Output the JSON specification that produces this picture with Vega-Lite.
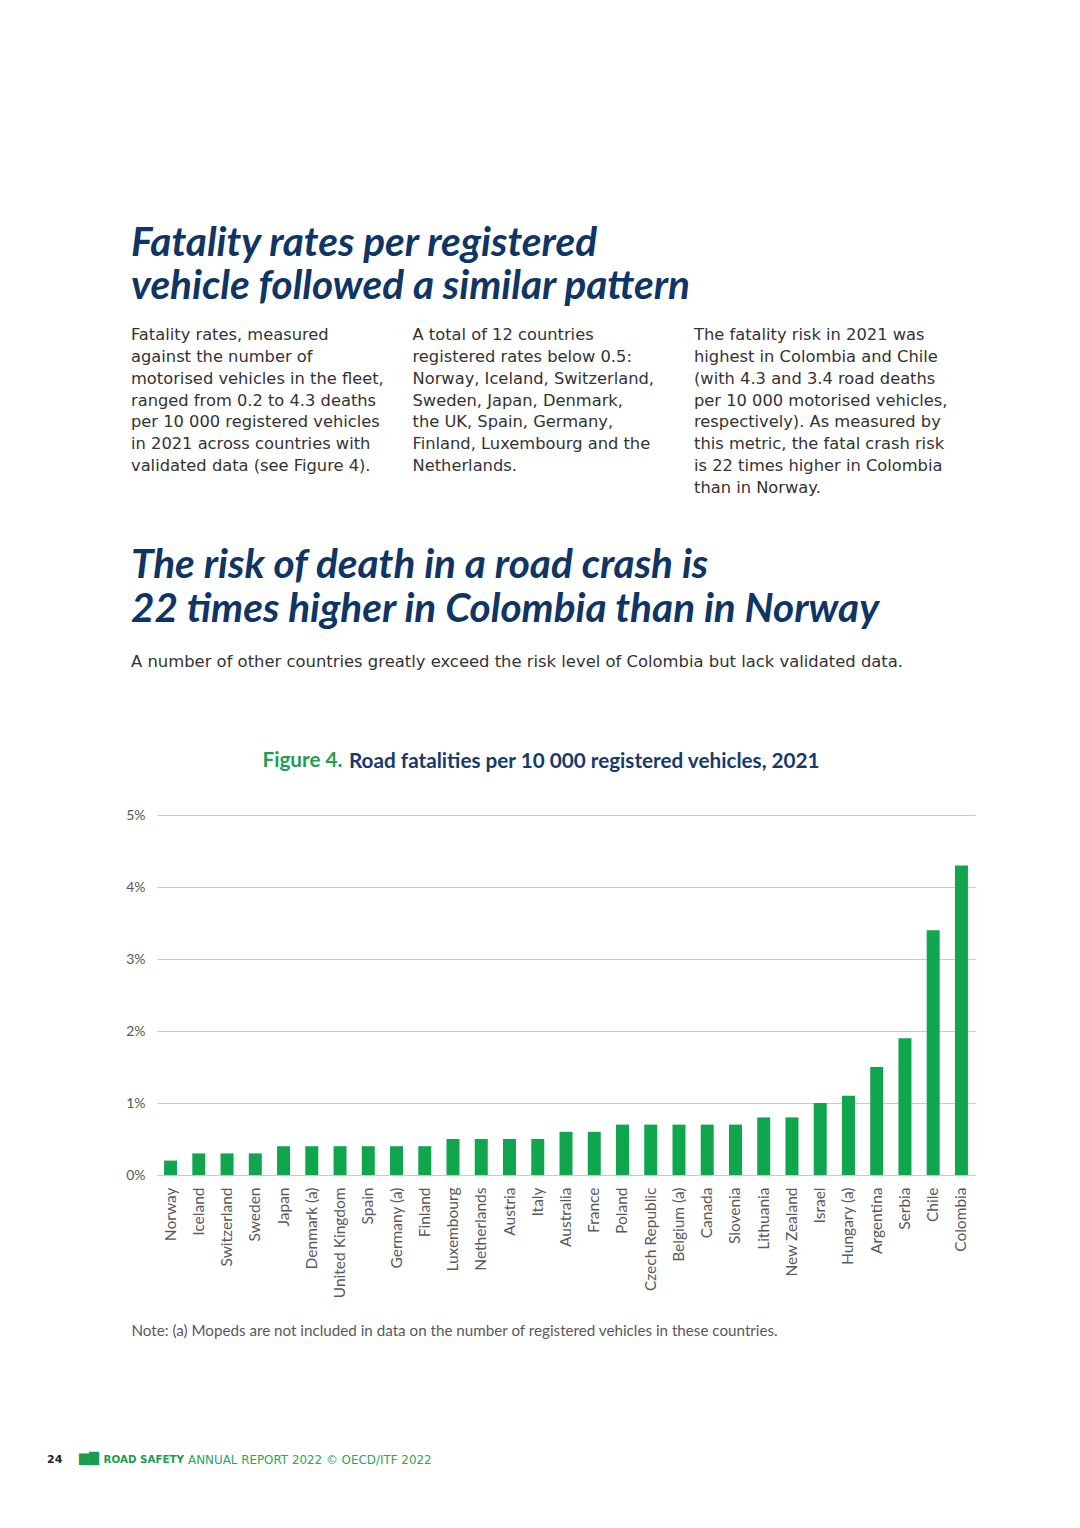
{
  "$schema": "https://vega.github.io/schema/vega-lite/v6.json",
  "background": "white",
  "padding": {"left": 47, "top": 223, "right": 10, "bottom": 10},
  "autosize": {"type": "pad"},
  "spacing": 78,
  "config": {"view": {"stroke": null}},
  "title": {
    "text": ["Fatality rates per registered", "vehicle followed a similar pattern"],
    "anchor": "start", "dx": 84, "offset": 20,
    "font": "Lato", "fontSize": 40.5, "fontStyle": "italic", "fontWeight": "bold",
    "color": "#0f3565", "lineHeight": 43
  },
  "vconcat": [
    {
      "width": 563, "height": 153,
      "data": {"values": [
        {"col": 1, "line": 0, "text": "Fatality rates, measured"},
        {"col": 1, "line": 1, "text": "against the number of"},
        {"col": 1, "line": 2, "text": "motorised vehicles in the fleet,"},
        {"col": 1, "line": 3, "text": "ranged from 0.2 to 4.3 deaths"},
        {"col": 1, "line": 4, "text": "per 10 000 registered vehicles"},
        {"col": 1, "line": 5, "text": "in 2021 across countries with"},
        {"col": 1, "line": 6, "text": "validated data (see Figure 4)."},
        {"col": 2, "line": 0, "text": "A total of 12 countries"},
        {"col": 2, "line": 1, "text": "registered rates below 0.5:"},
        {"col": 2, "line": 2, "text": "Norway, Iceland, Switzerland,"},
        {"col": 2, "line": 3, "text": "Sweden, Japan, Denmark,"},
        {"col": 2, "line": 4, "text": "the UK, Spain, Germany,"},
        {"col": 2, "line": 5, "text": "Finland, Luxembourg and the"},
        {"col": 2, "line": 6, "text": "Netherlands."},
        {"col": 3, "line": 0, "text": "The fatality risk in 2021 was"},
        {"col": 3, "line": 1, "text": "highest in Colombia and Chile"},
        {"col": 3, "line": 2, "text": "(with 4.3 and 3.4 road deaths"},
        {"col": 3, "line": 3, "text": "per 10 000 motorised vehicles,"},
        {"col": 3, "line": 4, "text": "respectively). As measured by"},
        {"col": 3, "line": 5, "text": "this metric, the fatal crash risk"},
        {"col": 3, "line": 6, "text": "is 22 times higher in Colombia"},
        {"col": 3, "line": 7, "text": "than in Norway."}
      ]},
      "mark": {"type": "text", "align": "left", "baseline": "alphabetic", "dx": -26, "font": "DejaVu Sans", "fontSize": 16.3, "color": "#333333"},
      "encoding": {
        "x": {"field": "col", "type": "ordinal", "scale": {"type": "point", "padding": 0}, "axis": null},
        "y": {"field": "line", "type": "ordinal", "scale": {"type": "point", "padding": 0}, "axis": null},
        "text": {"field": "text"}
      },
      "title": {
        "text": ["The risk of death in a road crash is", "22 times higher in Colombia than in Norway"],
        "subtitle": "A number of other countries greatly exceed the risk level of Colombia but lack validated data.",
        "orient": "bottom", "anchor": "start", "frame": "group", "dx": -26, "offset": 50,
        "font": "Lato", "fontSize": 40.5, "fontStyle": "italic", "fontWeight": "bold",
        "color": "#0f3565", "lineHeight": 44,
        "subtitleFont": "DejaVu Sans", "subtitleFontSize": 16.4, "subtitleColor": "#333333", "subtitlePadding": 23
      }
    },
    {
      "width": 818, "height": 360,
      "data": {"values": [
        {"country": "Norway", "value": 0.2},
        {"country": "Iceland", "value": 0.3},
        {"country": "Switzerland", "value": 0.3},
        {"country": "Sweden", "value": 0.3},
        {"country": "Japan", "value": 0.4},
        {"country": "Denmark (a)", "value": 0.4},
        {"country": "United Kingdom", "value": 0.4},
        {"country": "Spain", "value": 0.4},
        {"country": "Germany (a)", "value": 0.4},
        {"country": "Finland", "value": 0.4},
        {"country": "Luxembourg", "value": 0.5},
        {"country": "Netherlands", "value": 0.5},
        {"country": "Austria", "value": 0.5},
        {"country": "Italy", "value": 0.5},
        {"country": "Australia", "value": 0.6},
        {"country": "France", "value": 0.6},
        {"country": "Poland", "value": 0.7},
        {"country": "Czech Republic", "value": 0.7},
        {"country": "Belgium (a)", "value": 0.7},
        {"country": "Canada", "value": 0.7},
        {"country": "Slovenia", "value": 0.7},
        {"country": "Lithuania", "value": 0.8},
        {"country": "New Zealand", "value": 0.8},
        {"country": "Israel", "value": 1.0},
        {"country": "Hungary (a)", "value": 1.1},
        {"country": "Argentina", "value": 1.5},
        {"country": "Serbia", "value": 1.9},
        {"country": "Chile", "value": 3.4},
        {"country": "Colombia", "value": 4.3}
      ]},
      "mark": {"type": "bar", "color": "#0fa64e"},
      "encoding": {
        "x": {
          "field": "country", "type": "nominal", "sort": null,
          "scale": {"paddingInner": 0.54, "paddingOuter": 0.25},
          "axis": {
            "labelAngle": -90, "labelAlign": "right", "labelBaseline": "middle", "labelPadding": 12,
            "labelFont": "Lato", "labelFontSize": 15.5, "labelColor": "#595959",
            "ticks": false, "domain": false,
            "title": "Note: (a) Mopeds are not included in data on the number of registered vehicles in these countries.",
            "titleFont": "Lato", "titleFontSize": 15.2, "titleFontWeight": "normal", "titleColor": "#595959",
            "titleAnchor": "start", "titleAlign": "left", "titleBaseline": "alphabetic", "titleX": -26, "titleY": 160
          }
        },
        "y": {
          "field": "value", "type": "quantitative", "scale": {"domain": [0, 5]},
          "axis": {
            "values": [0, 1, 2, 3, 4, 5], "labelExpr": "datum.value + '%'",
            "labelFont": "Lato", "labelFontSize": 14, "labelColor": "#595959", "labelPadding": 12,
            "ticks": false, "domain": false, "gridColor": "#c9c9c9", "gridWidth": 1,
            "title": "Figure 4.", "titleAngle": 0, "titleAlign": "left", "titleBaseline": "alphabetic",
            "titleX": 105, "titleY": -49,
            "titleFont": "Lato", "titleFontSize": 20.7, "titleFontWeight": "bold", "titleColor": "#1f9e55"
          }
        }
      },
      "title": {
        "text": "Road fatalities per 10 000 registered vehicles, 2021",
        "anchor": "start", "frame": "group", "dx": 192, "offset": -24,
        "font": "Lato", "fontSize": 20.7, "fontWeight": "bold", "color": "#163a6b"
      }
    },
    {
      "width": 2, "height": 2,
      "data": {"values": [
        {"seg": "page", "label": "24"},
        {"seg": "icon", "label": "▆▇"},
        {"seg": "brand", "label": "ROAD SAFETY"},
        {"seg": "report", "label": "ANNUAL REPORT 2022 © OECD/ITF 2022"}
      ]},
      "layer": [
        {
          "transform": [{"filter": "datum.seg == 'page'"}],
          "mark": {"type": "text", "align": "left", "baseline": "middle", "dx": -111, "dy": 42, "font": "DejaVu Sans", "fontSize": 11, "fontWeight": "bold", "color": "#222222"},
          "encoding": {"text": {"field": "label"}}
        },
        {
          "transform": [{"filter": "datum.seg == 'icon'"}],
          "mark": {"type": "text", "align": "left", "baseline": "middle", "dx": -79, "dy": 40, "font": "DejaVu Sans", "fontSize": 13, "color": "#1a9c4f"},
          "encoding": {"text": {"field": "label"}}
        },
        {
          "transform": [{"filter": "datum.seg == 'brand'"}],
          "mark": {"type": "text", "align": "right", "baseline": "middle", "dx": 26, "dy": 42, "font": "DejaVu Sans", "fontSize": 10.3, "fontWeight": "bold", "color": "#1a9c4f"},
          "encoding": {"text": {"field": "label"}}
        },
        {
          "transform": [{"filter": "datum.seg == 'report'"}],
          "mark": {"type": "text", "align": "left", "baseline": "middle", "dx": 30, "dy": 42, "font": "DejaVu Sans", "fontSize": 11.9, "color": "#2aa55a"},
          "encoding": {"text": {"field": "label"}}
        }
      ]
    }
  ]
}
